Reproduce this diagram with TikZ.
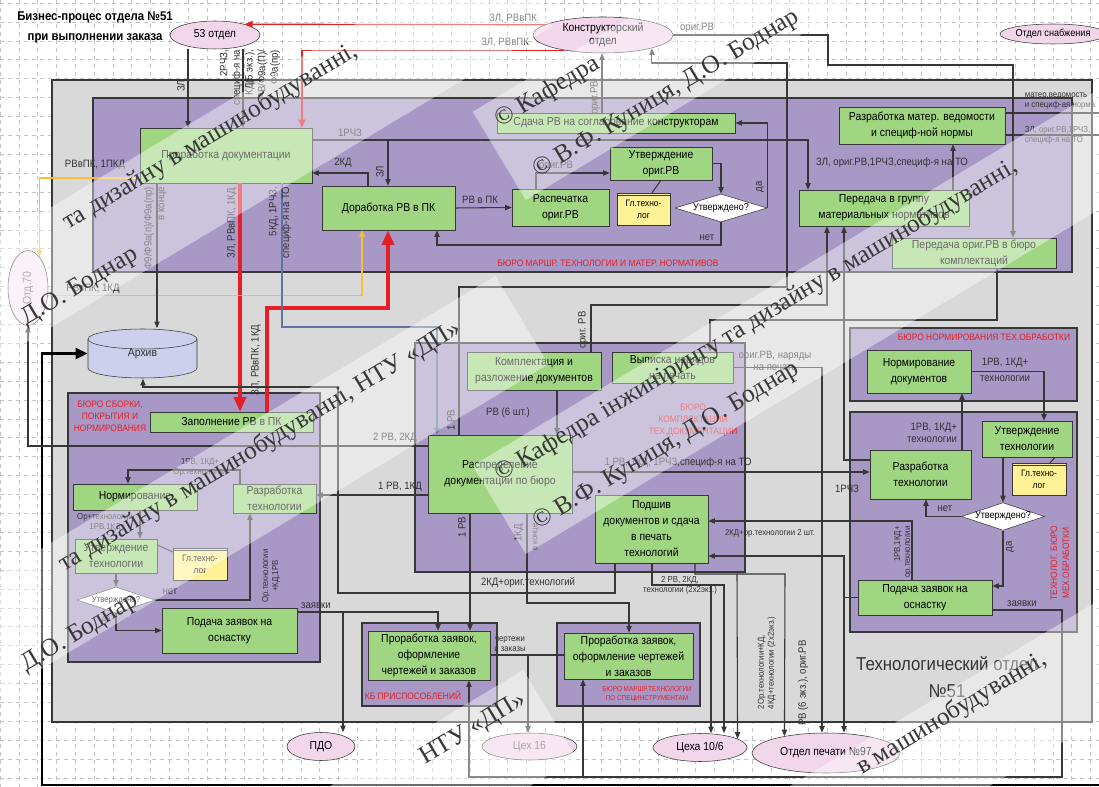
\documentclass[tikz,border=0pt]{standalone}
\usepackage{fontspec}
\setmainfont{Liberation Sans}[FakeStretch=0.9]
\newfontfamily\wmfont{Liberation Serif}
\usetikzlibrary{arrows.meta,shapes.geometric}
\definecolor{gridc}{RGB}{195,195,195}
\definecolor{grayc}{RGB}{217,217,217}
\definecolor{purpc}{RGB}{168,152,198}
\definecolor{greenc}{RGB}{160,214,130}
\definecolor{pinkc}{RGB}{242,214,234}
\definecolor{yelc}{RGB}{255,242,150}
\definecolor{cylc}{RGB}{204,208,236}
\definecolor{redc}{RGB}{228,32,36}
\definecolor{yline}{RGB}{247,190,60}
\definecolor{bline}{RGB}{96,116,160}
\definecolor{linec}{RGB}{55,55,55}
\definecolor{lblc}{RGB}{50,50,50}

\begin{document}
\begin{tikzpicture}[x=0.75pt, y=-0.75pt,
    gbox/.style={draw=linec, fill=greenc, inner sep=1pt, align=center,
                 font=\fontsize{8.7}{12}\selectfont},
    ybox/.style={draw=linec, fill=yelc, inner sep=0.5pt, align=center,
                 font=\fontsize{7}{9}\selectfont,
                 path picture={\draw[linec] ([yshift=-2pt]path picture bounding box.north west)
                   -- ([yshift=-2pt]path picture bounding box.north east);}},
    ellnode/.style={ellipse, draw=linec, fill=pinkc, inner sep=0pt, align=center,
                 font=\fontsize{8.7}{10}\selectfont},
    dia/.style={diamond, aspect=3, draw=linec, fill=white, inner sep=0pt,
                font=\fontsize{7.5}{8}\selectfont},
    area/.style={draw=linec, fill=purpc, line width=0.8pt},
    lbl/.style={text=lblc, inner sep=0.5pt, font=\fontsize{8}{9.5}\selectfont, align=center},
    slbl/.style={text=lblc, inner sep=0.5pt, font=\fontsize{6.5}{7.5}\selectfont, align=center},
    redl/.style={text=redc, inner sep=0.5pt, font=\fontsize{7}{9}\selectfont, align=center},
    ln/.style={draw=linec, line width=0.8pt},
    arr/.style={ln, -{Triangle[length=5pt,width=4pt]}},
    redarr/.style={draw=redc, line width=0.9pt, -{Triangle[length=6pt,width=5pt]}},
    bigred/.style={draw=redc, line width=2.6pt, -{Triangle[length=11pt,width=9pt]}},
    yarr/.style={draw=yline, line width=1pt, -{Triangle[length=5pt,width=4pt]}},
    barr/.style={draw=bline, line width=0.8pt, -{Triangle[length=5pt,width=4pt]}},
    thk/.style={draw=black, line width=2.2pt, -{Triangle[length=9pt,width=8pt]}},
    wband/.style={fill=white, opacity=0.42},
    wm/.style={font=\wmfont\fontsize{19}{19}\selectfont, text=black!78, inner sep=0pt,
               anchor=base west, rotate=31}
  ]
  \clip (0,0) rectangle (1099,787);
  \fill[white] (0,0) rectangle (1099,787);
  \foreach \i in {0,...,58} \draw[gridc, dashed, line width=0.4pt] (\i*18.8,0) -- (\i*18.8,787);
  \foreach \i in {0,...,41} \draw[gridc, dashed, line width=0.4pt] (0,3+\i*18.9) -- (1099,3+\i*18.9);

  \draw[draw=linec, fill=grayc, line width=0.8pt] (52,80) rectangle (1092,722);
  \draw[area] (93,98) rectangle (1072,272);
  \draw[area] (68,393) rectangle (320,662);
  \draw[area] (415,343) rectangle (745,572);
  \draw[area] (850,328) rectangle (1077,401);
  \draw[area] (850,412) rectangle (1077,632);
  \draw[area] (362,623) rectangle (497,706);
  \draw[area] (557,623) rectangle (700,706);

  \node[font=\bfseries\fontsize{9.5}{15}\selectfont, align=center] (title) at (95,27)
    {Бизнес-процес отдела №51\\при выполнении заказа};
  \node[font=\fontsize{14}{20}\selectfont, align=center, text=black!80] (otdel) at (947,677)
    {Технологический отдел\\№51};

  \node[ellnode, minimum width=67.5pt, minimum height=21pt] (ot53) at (215,35) {53 отдел};
  \node[ellnode, minimum width=105pt, minimum height=27pt] (konstr) at (603,35) {Конструкторский\\отдел};
  \node[ellnode, minimum width=69pt, minimum height=15pt, font=\fontsize{7.6}{9}\selectfont] (snab) at (1053,34) {Отдел снабжения};
  \node[ellnode, minimum width=51pt, minimum height=21pt] (pdo) at (321,746.5) {ПДО};
  \node[ellnode, minimum width=71.25pt, minimum height=20.25pt, text=black!60] (ceh16) at (529.5,746.5) {Цех 16};
  \node[ellnode, minimum width=70.5pt, minimum height=21pt] (ceh10) at (700,747.5) {Цеха 10/6};
  \node[ellnode, minimum width=111pt, minimum height=30pt] (pech) at (826,753) {Отдел печати №97};
  \node[ellnode, minimum width=30pt, minimum height=56.25pt, fill=pinkc!50,
        label={[rotate=90, text=black!55, font=\fontsize{8.7}{10}\selectfont]center:Отд.70}] (otd70) at (28,288) {};

  \draw[linec, fill=cylc] (88,339) -- (88,368) arc[start angle=180, end angle=360, x radius=40.875pt, y radius=7.5pt]
    -- (197,339) arc[start angle=0, end angle=180, x radius=40.875pt, y radius=7.5pt] -- cycle;
  \draw[linec] (88,339) arc[start angle=180, end angle=360, x radius=40.875pt, y radius=7.5pt];
  \node[lbl, minimum width=81.75pt, minimum height=37.5pt, font=\fontsize{8.7}{10}\selectfont] (arkhiv) at (142.5,353.5) {Архив};

  \node[gbox, minimum width=129pt, minimum height=41.25pt] (prorab) at (226,155.5) {Проработка документации};
  \node[gbox, minimum width=99.75pt, minimum height=33pt] (dorab) at (388.5,208) {Доработка РВ в ПК};
  \node[gbox, minimum width=178.5pt, minimum height=15pt] (sdacha) at (616,123) {Сдача РВ на согласование конструкторам};
  \node[gbox, minimum width=76.5pt, minimum height=24.75pt] (utvrv) at (661,163.5) {Утверждение\\ориг.РВ};
  \node[gbox, minimum width=72.75pt, minimum height=27.75pt] (raspech) at (560.5,207.5) {Распечатка\\ориг.РВ};
  \node[ybox, minimum width=39.75pt, minimum height=24pt] (glt1) at (643.5,209) {Гл.техно-\\лог};
  \node[dia, minimum width=69pt, minimum height=21pt] (dia1) at (721,208) {Утверждено?};
  \node[gbox, minimum width=124.5pt, minimum height=27.75pt] (razrmat) at (922,125.5) {Разработка матер. ведомости\\и специф-ной нормы};
  \node[gbox, minimum width=127.5pt, minimum height=27pt] (peredgr) at (884,208) {Передача в группу\\материальных нормативов};
  \node[gbox, minimum width=123pt, minimum height=22.5pt] (peredor) at (974,253) {Передача ориг.РВ в бюро\\комплектаций};

  \node[gbox, minimum width=122.25pt, minimum height=15pt] (zapoln) at (231.5,422) {Заполнение РВ в ПК};
  \node[gbox, minimum width=93pt, minimum height=19.5pt] (norml) at (135,497) {Нормирование};
  \node[gbox, minimum width=62.25pt, minimum height=21.75pt] (razrl) at (274.5,498.5) {Разработка\\технологии};
  \node[gbox, minimum width=61.5pt, minimum height=25.5pt] (utvl) at (116,556) {Утверждение\\технологии};
  \node[ybox, minimum width=40.5pt, minimum height=24pt] (gltl) at (200,564) {Гл.техно-\\лог};
  \node[dia, minimum width=58.5pt, minimum height=19.5pt, font=\fontsize{6.5}{7}\selectfont] (dial) at (116,600) {Утверждено?};
  \node[gbox, minimum width=101.25pt, minimum height=33.75pt] (podl) at (229.5,630.5) {Подача заявок на\\оснастку};

  \node[gbox, minimum width=100.5pt, minimum height=28.5pt] (kompl) at (534,371) {Комплектация и\\разложение документов};
  \node[gbox, minimum width=90.75pt, minimum height=23.25pt] (vyp) at (672.5,367.5) {Выписка нарядов\\на печать};
  \node[gbox, minimum width=108pt, minimum height=58.5pt] (raspr) at (500,474) {Распределение\\документации по бюро};
  \node[gbox, minimum width=84.75pt, minimum height=51pt] (podsh) at (651.5,529) {Подшив\\документов и сдача\\в печать\\технологий};

  \node[gbox, minimum width=78pt, minimum height=32.25pt] (normr) at (919,371.5) {Нормирование\\документов};
  \node[gbox, minimum width=75.75pt, minimum height=36.75pt] (razrr) at (920.5,474.5) {Разработка\\технологии};
  \node[gbox, minimum width=67.5pt, minimum height=27pt] (utvr) at (1027,439) {Утверждение\\технологии};
  \node[ybox, minimum width=40.5pt, minimum height=24pt] (gltr) at (1039,479) {Гл.техно-\\лог};
  \node[dia, minimum width=62.25pt, minimum height=20.25pt] (diar) at (1003,516.5) {Утверждено?};
  \node[gbox, minimum width=100.5pt, minimum height=26.25pt] (podr) at (925,597.5) {Подача заявок на\\оснастку};

  \node[gbox, minimum width=91.5pt, minimum height=36.75pt] (prkb) at (429,655.5) {Проработка заявок,\\оформление\\чертежей и заказов};
  \node[gbox, minimum width=96.75pt, minimum height=34.5pt] (prsp) at (628.5,656) {Проработка заявок,\\оформление чертежей\\и заказов};

  \coordinate (j1) at (388,140);
  \coordinate (j4) at (343,612);
  \coordinate (j5) at (528,655);
  \coordinate (j6) at (583,777);
  \coordinate (j7) at (711,585);
  \coordinate (j8) at (737,574);
  \coordinate (j9) at (844,597.5);
  \coordinate (rt1) at (1099,113);
  \coordinate (rt2) at (1099,135);
  \coordinate (rtb) at (1099,785);

  \draw[arr] (188,0 |- ot53.south) -- (188,0 |- prorab.north);
  \draw[arr] (243,0 |- ot53.south) -- (243,0 |- prorab.north);
  \draw[redarr] (konstr.170) -- (ot53.20);
  \draw[redarr] (konstr.201) -| (302,0 |- prorab.north);
  \draw[arr] (602,0 |- sdacha.north) -- (602,0 |- konstr.south);
  \draw[arr] (konstr.east) -- (828,0 |- konstr.east) |- (1013,65) -- (1013,0 |- peredor.north);
  \draw[arr] (459,0 |- raspr.north) |- (787,287) -- (787,63) -| (konstr.-15);
  \draw[arr] (dia1.east) |- (sdacha.east);
  \draw[arr] (utvrv.east) -| (dia1.north);
  \draw[arr] (dia1.south) |- (437,245) -- (437,0 |- dorab.south);
  \draw[arr] (dorab.east) -- (raspech.west);
  \draw[arr] (536,0 |- raspech.north) |- (utvrv.west |- 0,173);
  \draw[ln] (utvrv.south) -- (glt1.north -| 652,0);
  \draw[arr] (prorab.east |- 0,140) -| (808,0 |- peredgr.north);
  \draw[arr] (j1) -- (j1 |- dorab.north);
  \draw[arr] (368,0 |- dorab.north) |- (prorab.east |- 0,173);
  \draw[arr] (953,0 |- peredgr.north) -- (953,0 |- razrmat.south);
  \draw[ln] (razrmat.east |- 0,113) -- (rt1);
  \draw[ln] (razrmat.east |- 0,135) -- (rt2);
  \draw[arr] (997,0 |- peredor.south) |- (710,320) -- (710,0 |- vyp.north);
  \draw[arr] (591,0 |- kompl.north) |- (827,305) -- (827,0 |- peredgr.south);
  \draw[arr] (razrr.west |- 0,460) -| (844,0 |- peredgr.south);
  \draw[arr] (962,0 |- razrr.north) -- (962,0 |- normr.south);
  \draw[arr] (normr.east) -| (1044,0 |- utvr.north);
  \draw[arr] (1003,0 |- utvr.south) -- (diar.north);
  \draw[ln] (1055,0 |- utvr.south) -- (1050,0 |- gltr.north);
  \draw[arr] (diar.west) -| (926,0 |- razrr.south);
  \draw[arr] (diar.south) |- (podr.east |- 0,586);
  \draw[arr] (912,0 |- podr.north) |- (podsh.east |- 0,521);
  \draw[arr] (podr.west) -- (j9) |- (podsh.east |- 0,556);
  \draw[arr] (j9) -- (844,0 |- pech.north);
  \draw[arr] (podr.east |- 0,610) -| (1062,777) -- (469,777) -- (469,0 |- prkb.south);
  \draw[arr] (j6) -- (583,0 |- prsp.south);
  \draw[thk] (rtb) -- (42,0 |- rtb) |- (arkhiv.west);

  \draw[bigred] (240,0 |- prorab.south) -- (240,0 |- zapoln.north);
  \draw[bigred] (267,0 |- zapoln.north) |- (388,308) -- (388,0 |- dorab.south);
  \draw[yarr] (prorab.west |- 0,178) -| (otd70.70);
  \draw[yarr] (otd70.-20) -| (362,0 |- dorab.south);
  \draw[barr] (282,0 |- prorab.south) |- (437,327) -- (437,0 |- raspr.north);
  \draw[arr] (157,0 |- prorab.south) -- (157,0 |- arkhiv.north);
  \draw[arr] (615,0 |- podsh.south) |- (338,593) |- (143,387) -- (143,0 |- arkhiv.south);
  \draw[arr] (raspr.west |- 0,446) -| (otd70.south);
  \draw[arr] (raspr.west |- 0,495) -- (razrl.east |- 0,495);
  \draw[arr] (557,0 |- kompl.south) -- (557,0 |- raspr.north);
  \draw[arr] (raspr.east |- 0,472) -- (razrr.west |- 0,472);
  \draw[arr] (240,0 |- razrl.north) |- (128,470) -- (128,0 |- norml.north);
  \draw[arr] (140,0 |- norml.south) -- (140,0 |- utvl.north);
  \draw[arr] (utvl.south) -- (dial.north);
  \draw[ln] (utvl.east |- 0,545) -- (gltl.west |- 0,552);
  \draw[arr] (dial.east) -| (250,0 |- razrl.south);
  \draw[arr] (dial.south) |- (podl.west);
  \draw[arr] (podl.east |- 0,612) -| (343,0 |- pdo.north);
  \draw[arr] (j4) -| (438,0 |- prkb.north);
  \draw[arr] (470,0 |- raspr.south) -- (470,0 |- prkb.north);
  \draw[arr] (527,0 |- raspr.south) |- (629,603) -- (629,0 |- prsp.north);
  \draw[ln] (prkb.east |- 0,655) -- (prsp.west |- 0,655);
  \draw[arr] (j5) -- (528,0 |- ceh16.north);
  \draw[arr] (652,0 |- podsh.south) |- (724,585) -- (724,0 |- ceh10.north);
  \draw[arr] (j7) -- (711,0 |- ceh10.north);
  \draw[arr] (vyp.east) -| (822,0 |- pech.north);
  \draw[arr] (695,0 |- podsh.south) |- (785,574) -- (pech.158);
  \draw[arr] (j8) -- (ceh10.13);

  \node[lbl] (t1) at (513,18) {ЗЛ, РВвПК};
  \node[lbl] (t2) at (505,42) {ЗЛ, РВвПК};
  \node[lbl] (t3) at (697,28) {ориг.РВ};
  \node[lbl, rotate=90] (t4) at (181,86) {ЗЛ};
  \node[lbl, rotate=90, anchor=east, align=right] (t5) at (250,49) {2РЧЗ,\\специф-я на\\КД(5 экз.),\\РВ/Ф9а(П)/\\Ф9а(пр)};
  \node[lbl] (t6) at (350,133) {1РЧЗ};
  \node[lbl] (t7) at (343,163) {2КД};
  \node[lbl, rotate=90] (t8) at (380,172) {ЗЛ};
  \node[lbl] (t9) at (95,165) {РВвПК, 1ПКД};
  \node[lbl, rotate=90] (t10) at (595,98) {ориг.РВ};
  \node[lbl] (t11) at (556,166) {ориг.РВ};
  \node[lbl] (t12) at (480,200) {РВ в ПК};
  \node[lbl] (t13) at (707,238) {нет};
  \node[lbl, rotate=90] (t14) at (760,187) {да};
  \node[lbl] (t15) at (892,163) {ЗЛ, ориг.РВ,1РЧЗ,специф-я на ТО};
  \node[slbl, anchor=west, align=left] (t16) at (1024,101) {матер.ведомость\\и специф-ая норма};
  \node[slbl, anchor=west, align=left] (t17) at (1024,135) {ЗЛ, ориг.РВ,1РЧЗ,\\специф-я на ТО};
  \node[redl] (t18) at (608,263) {БЮРО МАРШР. ТЕХНОЛОГИИ И МАТЕР. НОРМАТИВОВ};
  \node[lbl, rotate=90, anchor=north east, align=right] (t19) at (143,186) {Ф9/Ф9а(п)/Ф9а(пр)\\в конце};
  \node[lbl, rotate=90, anchor=east] (t20) at (232,187) {ЗЛ, РВвПК, 1КД};
  \node[lbl, rotate=90, anchor=north east, align=right] (t21) at (268,186) {5КД, 1РЧЗ,\\специф-я на ТО};
  \node[lbl] (t22) at (93,289) {РВвПК, 1КД};
  \node[lbl, rotate=90] (t23) at (256,360) {ЗЛ, РВвПК, 1КД};
  \node[lbl] (t24) at (395,438) {2 РВ, 2КД};
  \node[lbl] (t25) at (400,487) {1 РВ, 1КД};
  \node[lbl] (t26) at (508,413) {РВ (6 шт.)};
  \node[lbl, rotate=90] (t27) at (451,420) {1 РВ};
  \node[lbl, rotate=90] (t28) at (583,330) {ориг. РВ};
  \node[lbl] (t29) at (775,361) {ориг.РВ, наряды\\на печать};
  \node[redl] (t30) at (693,420) {БЮРО\\КОМПЛЕКТАЦИИ\\ТЕХ.ДОКУМЕНТАЦИИ};
  \node[lbl] (t31) at (678,463) {1 РВ, 1КД, 1РЧЗ,специф-я на ТО};
  \node[lbl, rotate=90] (t32) at (462,527) {1 РВ};
  \node[lbl, rotate=90] (t33) at (519,533) {1КД};
  \node[slbl, rotate=90] (t34) at (536,537) {в конце};
  \node[slbl] (t35) at (770,533) {2КД+ор.технологии 2 шт.};
  \node[lbl] (t36) at (528,583) {2КД+ориг.технологий};
  \node[slbl] (t37) at (680,585) {2 РВ, 2КД,\\технологии (2х2экз.)};
  \node[lbl, anchor=east, align=right] (t38) at (958,433) {1РВ, 1КД+\\технологии};
  \node[lbl] (t39) at (1005,363) {1РВ, 1КД+};
  \node[lbl] (t40) at (1005,379) {технологии};
  \node[lbl] (t41) at (847,489) {1РЧЗ};
  \node[lbl] (t42) at (945,509) {нет};
  \node[lbl, rotate=90] (t43) at (1010,547) {да};
  \node[slbl, rotate=90, align=right] (t44) at (903,552) {1РВ,1КД+\\ор.технологии};
  \node[lbl] (t45) at (1022,604) {заявки};
  \node[lbl] (t46) at (316,606) {заявки};
  \node[redl] (t47) at (984,337) {БЮРО НОРМИРОВАНИЯ ТЕХ.ОБРАБОТКИ};
  \node[redl, rotate=90] (t48) at (1060,563) {ТЕХНОЛОГ. БЮРО\\МЕХ.ОБРАБОТКИ};
  \node[redl] (t49) at (110,416) {БЮРО СБОРКИ,\\ПОКРЫТИЯ И\\НОРМИРОВАНИЯ};
  \node[slbl] (t50) at (200,467) {1РВ, 1КД+\\Ор.технологии};
  \node[slbl] (t51) at (105,522) {Ор+технологии\\1РВ,1КД};
  \node[slbl, rotate=90] (t52) at (271,576) {Ор.технологии\\+КД,1РВ};
  \node[lbl] (t53) at (170,592) {нет};
  \node[slbl] (t54) at (106,620) {да};
  \node[slbl] (t55) at (510,644) {чертежи\\и заказы};
  \node[redl] (t56) at (413,695) {КБ ПРИСПОСОБЛЕНИЙ};
  \node[redl, font=\fontsize{5.3}{6.5}\selectfont] (t57) at (647,694) {БЮРО МАРШР.ТЕХНОЛОГИИ\\ПО СПЕЦИНСТРУМЕНТАМ};
  \node[slbl, rotate=90, anchor=north west, align=left] (t58) at (757,710) {2Ор.технологии+КД,\\4КД+технологии (2х2экз.)};
  \node[lbl, rotate=90] (t59) at (803,683) {РВ (6 экз.), ориг.РВ};

  \foreach \sx/\sy in {-172/374, 500/128, 500/482, -176/712, -148/1106, 508/988}
    \fill[wband, shift={(\sx,\sy)}, rotate=31] (-15,-28) rectangle (800,75);
  \node[wm] (w1) at (68,230) {та дизайну в машинобудуванні,};
  \node[wm] (w2) at (26,326) {Д.О. Боднар};
  \node[wm] (w3) at (500,128) {© Кафедра};
  \node[wm] (w4) at (538,178) {© В.Ф. Куниця, Д.О. Боднар};
  \node[wm] (w5) at (500,482) {© Кафедра інжинірингу та дизайну в машинобудуванні,};
  \node[wm] (w6) at (538,530) {© В.Ф. Куниця, Д.О. Боднар};
  \node[wm] (w7) at (64,572) {та дизайну в машинобудуванні, НТУ «ДП»};
  \node[wm] (w8) at (26,672) {Д.О. Боднар};
  \node[wm] (w9) at (425,765) {НТУ «ДП»};
  \node[wm] (w10) at (862,775) {в машинобудуванні,};
\end{tikzpicture}
\end{document}
